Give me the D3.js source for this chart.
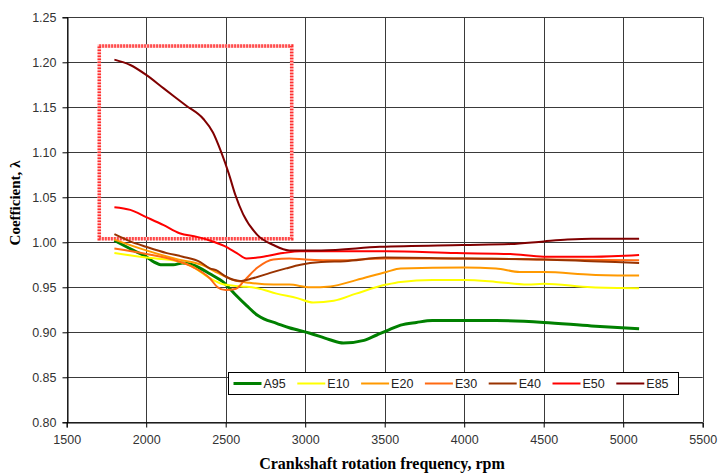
<!DOCTYPE html>
<html>
<head>
<meta charset="utf-8">
<script src="https://cdn.jsdelivr.net/npm/d3@7"></script>
<style>
  body { margin: 0; background: #fff; }
  svg { display: block; }
  .tick text { font-family: Arial, "Liberation Sans", sans-serif; font-size: 12.5px; fill: #333; }
  .title { font-family: "Times New Roman", "Liberation Serif", serif; font-weight: bold; fill: #000; }
  .legendText { font-family: Arial, "Liberation Sans", sans-serif; font-size: 12.5px; fill: #222; }
</style>
</head>
<body>
<svg width="719" height="475"></svg>
<script>
// DATA
var seriesNames = ['A95', 'E10', 'E20', 'E30', 'E40', 'E50', 'E85'];

var a95Rpm = [1800, 1920, 2000, 2050, 2100, 2170, 2230, 2290, 2400, 2490, 2560, 2630, 2700, 2740, 2820, 2900, 3030, 3150, 3240, 3370, 3450, 3530, 3600, 3700, 3800, 4000, 4200, 4500, 4800, 5100];
var a95 = [1.002, 0.991, 0.984, 0.978, 0.975, 0.975, 0.977, 0.975, 0.965, 0.955, 0.942, 0.930, 0.919, 0.915, 0.910, 0.905, 0.899, 0.892, 0.888, 0.891, 0.897, 0.903, 0.908, 0.911, 0.913, 0.913, 0.913, 0.911, 0.907, 0.904];

var e10Rpm = [1800, 2000, 2200, 2300, 2400, 2490, 2600, 2700, 2820, 2950, 3050, 3180, 3320, 3510, 3600, 3800, 4000, 4200, 4400, 4500, 4800, 5100];
var e10 = [0.988, 0.983, 0.979, 0.972, 0.960, 0.953, 0.951, 0.949, 0.943, 0.938, 0.933, 0.935, 0.943, 0.953, 0.956, 0.958, 0.958, 0.956, 0.953, 0.954, 0.950, 0.949];

var e20Rpm = [1800, 2000, 2200, 2350, 2450, 2550, 2650, 2800, 2900, 3030, 3160, 3320, 3510, 3600, 4000, 4200, 4350, 4500, 4800, 5100];
var e20 = [1.003, 0.991, 0.981, 0.975, 0.966, 0.958, 0.955, 0.953, 0.953, 0.950, 0.951, 0.958, 0.967, 0.971, 0.972, 0.971, 0.967, 0.967, 0.964, 0.963];

var e30Rpm = [1800, 2000, 2200, 2300, 2400, 2450, 2500, 2560, 2620, 2700, 2800, 2900, 3000, 3200, 3500, 4000, 4500, 5100];
var e30 = [0.993, 0.987, 0.979, 0.972, 0.960, 0.950, 0.947, 0.948, 0.958, 0.972, 0.981, 0.982, 0.981, 0.980, 0.982, 0.982, 0.981, 0.980];

var e40Rpm = [1800, 1900, 2000, 2130, 2230, 2340, 2400, 2440, 2500, 2590, 2670, 2780, 2880, 2970, 3100, 3250, 3500, 4000, 4500, 4800, 5100];
var e40 = [1.009, 1.001, 0.995, 0.988, 0.984, 0.978, 0.971, 0.969, 0.962, 0.957, 0.960, 0.966, 0.971, 0.975, 0.978, 0.979, 0.983, 0.982, 0.981, 0.979, 0.977];

var e50Rpm = [1800, 1900, 2000, 2110, 2210, 2320, 2400, 2490, 2570, 2630, 2700, 2860, 2970, 3110, 3510, 3950, 4290, 4500, 4810, 5100];
var e50 = [1.039, 1.036, 1.028, 1.019, 1.010, 1.006, 1.002, 0.996, 0.988, 0.982, 0.983, 0.988, 0.990, 0.990, 0.990, 0.988, 0.987, 0.984, 0.984, 0.986];

var e85Rpm = [1800, 1900, 2000, 2110, 2250, 2360, 2420, 2470, 2520, 2560, 2610, 2700, 2800, 2900, 3100, 3470, 3990, 4290, 4500, 4650, 4800, 5100];
var e85 = [1.203, 1.197, 1.186, 1.171, 1.152, 1.137, 1.122, 1.101, 1.076, 1.053, 1.031, 1.008, 0.997, 0.991, 0.991, 0.995, 0.997, 0.998, 1.001, 1.003, 1.004, 1.004];

var xTicks = [1500, 2000, 2500, 3000, 3500, 4000, 4500, 5000, 5500];
var yTicks = [0.80, 0.85, 0.90, 0.95, 1.00, 1.05, 1.10, 1.15, 1.20, 1.25];

// highlighted region [rpm from, rpm to, lambda from, lambda to]
var highlightBox = [1705, 2915, 1.004, 1.218];

// STYLE
var seriesColors = ['#008000', '#ffff00', '#ff9900', '#ff6a13', '#993300', '#ff0000', '#800000'];
var seriesWidths = [3, 2, 2, 2, 2, 2, 2];

var seriesData = [
  [a95Rpm, a95], [e10Rpm, e10], [e20Rpm, e20], [e30Rpm, e30],
  [e40Rpm, e40], [e50Rpm, e50], [e85Rpm, e85]
].map(function(p) {
  return p[0].map(function(r, i) { return { rpm: r, v: p[1][i] }; });
});

var svg = d3.select('svg');
var plotLeft = 66.7, plotRight = 702.7, plotTop = 17.3, plotBottom = 422.3;

var x = d3.scaleLinear().domain([1500, 5500]).range([plotLeft, plotRight]);
var y = d3.scaleLinear().domain([0.80, 1.25]).range([plotBottom, plotTop]);

// gridlines
var grid = svg.append('g');
grid.selectAll('line.h')
  .data(yTicks)
  .enter()
  .append('line')
  .attr('x1', plotLeft).attr('x2', plotRight)
  .attr('y1', function(d) { return Math.round(y(d)) + 0.5; })
  .attr('y2', function(d) { return Math.round(y(d)) + 0.5; })
  .attr('stroke', '#3a3a3a');
grid.selectAll('line.v')
  .data(xTicks)
  .enter()
  .append('line')
  .attr('y1', plotTop).attr('y2', plotBottom)
  .attr('x1', function(d) { return Math.round(x(d)) + 0.5; })
  .attr('x2', function(d) { return Math.round(x(d)) + 0.5; })
  .attr('stroke', '#3a3a3a');

// axes
svg.append('g')
  .attr('transform', 'translate(0,' + (Math.round(plotBottom) + 0.5) + ')')
  .call(d3.axisBottom(x).tickValues(xTicks).tickSize(5).tickPadding(8).tickFormat(d3.format('d')));
svg.append('g')
  .attr('transform', 'translate(' + (Math.round(plotLeft) + 0.5) + ',0)')
  .call(d3.axisLeft(y).tickValues(yTicks).tickSize(5).tickPadding(6).tickFormat(d3.format('.2f')));
svg.selectAll('.domain').attr('stroke', '#000');
svg.selectAll('.tick line').attr('stroke', '#000');

// highlight box
var bx = x(highlightBox[0]), bx2 = x(highlightBox[1]);
var by = y(highlightBox[3]), by2 = y(highlightBox[2]);
svg.append('rect')
  .attr('x', bx).attr('y', by)
  .attr('width', bx2 - bx).attr('height', by2 - by)
  .attr('fill', 'none')
  .attr('stroke', '#ffc4c4')
  .attr('stroke-width', 3.5);
svg.append('rect')
  .attr('x', bx).attr('y', by)
  .attr('width', bx2 - bx).attr('height', by2 - by)
  .attr('fill', 'none')
  .attr('stroke', '#ff3030')
  .attr('stroke-width', 3.5)
  .attr('stroke-dasharray', '1.5 1.5');

// lines
var line = d3.line()
  .x(function(d) { return x(d.rpm); })
  .y(function(d) { return y(d.v); })
  .curve(d3.curveMonotoneX);

svg.append('g').selectAll('path')
  .data(seriesData)
  .enter()
  .append('path')
  .attr('d', line)
  .attr('fill', 'none')
  .attr('stroke', function(d, i) { return seriesColors[i]; })
  .attr('stroke-width', function(d, i) { return seriesWidths[i]; })
  .attr('stroke-linejoin', 'round');

// legend
var lg = svg.append('g').attr('transform', 'translate(228.5,372.5)');
lg.append('rect')
  .attr('width', 450).attr('height', 22)
  .attr('fill', '#fff').attr('stroke', '#000');
var item = lg.selectAll('g.item')
  .data(seriesNames)
  .enter()
  .append('g')
  .attr('transform', function(d, i) { return 'translate(' + (5 + i * 63.8) + ',11)'; });
item.append('line')
  .attr('x1', 0).attr('x2', 28)
  .attr('stroke', function(d, i) { return seriesColors[i]; })
  .attr('stroke-width', function(d, i) { return seriesWidths[i]; });
item.append('text')
  .attr('class', 'legendText')
  .attr('x', 30).attr('y', 4.5)
  .text(function(d) { return d; });

// axis titles
svg.append('text')
  .attr('class', 'title')
  .attr('x', 382).attr('y', 469)
  .attr('text-anchor', 'middle')
  .style('font-size', '16px')
  .text('Crankshaft rotation frequency, rpm');
svg.append('text')
  .attr('class', 'title')
  .attr('transform', 'translate(20,203) rotate(-90)')
  .attr('text-anchor', 'middle')
  .style('font-size', '15px')
  .text('Coefficient, λ');
</script>
</body>
</html>
